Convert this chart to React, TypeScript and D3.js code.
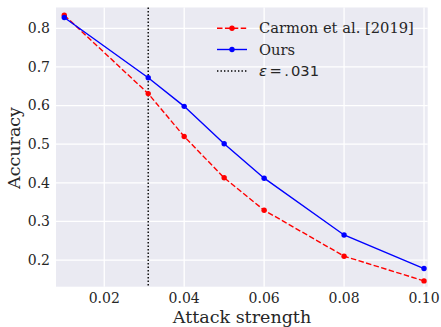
import React from 'react';
import * as d3 from 'd3';

// attack strength values
const strengths = [0.01, 0.031, 0.04, 0.05, 0.06, 0.08, 0.1];
const carmon = [0.834, 0.631, 0.52, 0.413, 0.329, 0.21, 0.146];
const ours = [0.828, 0.672, 0.598, 0.501, 0.412, 0.265, 0.178];
const xTicks = [0.02, 0.04, 0.06, 0.08, 0.1];
const yTicks = [0.2, 0.3, 0.4, 0.5, 0.6, 0.7, 0.8];
const epsilon = 0.031;

const width = 441;
const height = 327;
const margin = { left: 56, right: 13.3, top: 7.5, bottom: 40.3 };
const serif = '"DejaVu Serif", serif';
const textColor = '#262626';

export default function App() {
  const x = d3.scaleLinear()
    .domain([0.00793, 0.10092])
    .range([margin.left, width - margin.right]);
  const y = d3.scaleLinear()
    .domain([0.131, 0.854])
    .range([height - margin.bottom, margin.top]);

  const line = d3.line<number>()
    .x((d, i) => x(strengths[i]))
    .y(d => y(d));

  const series = [
    { name: 'Carmon et al. [2019]', values: carmon, color: '#ff0000', dash: '5.5,2.4' },
    { name: 'Ours', values: ours, color: '#0000ff', dash: null }
  ];

  const plotW = width - margin.left - margin.right;
  const plotH = height - margin.top - margin.bottom;
  const legX = 217;
  const legY = [28.3, 49.5, 71];

  return (
    <svg width={width} height={height} style={{ position: 'absolute', left: 0, top: 0 }}>
      <rect x={0} y={0} width={width} height={height} fill='#ffffff' />
      <rect x={margin.left} y={margin.top} width={plotW} height={plotH} fill='#eaeaf2' />
      {/* grid */}
      {xTicks.map(t => (
        <line key={'gx' + t} x1={x(t)} x2={x(t)} y1={margin.top} y2={margin.top + plotH}
          stroke='#ffffff' strokeWidth={1.3} />
      ))}
      {yTicks.map(t => (
        <line key={'gy' + t} x1={margin.left} x2={margin.left + plotW} y1={y(t)} y2={y(t)}
          stroke='#ffffff' strokeWidth={1.3} />
      ))}
      {/* epsilon line */}
      <line x1={x(epsilon)} x2={x(epsilon)} y1={margin.top} y2={margin.top + plotH}
        stroke='#000000' strokeWidth={1.4} strokeDasharray='1.4,2.1' />
      {series.map(s => (
        <g key={s.name}>
          <path d={line(s.values) || ''} fill='none' stroke={s.color} strokeWidth={1.4}
            strokeDasharray={s.dash || undefined} />
          {s.values.map((v, i) => (
            <circle key={i} cx={x(strengths[i])} cy={y(v)} r={2.7} fill={s.color} />
          ))}
        </g>
      ))}
      {/* tick labels */}
      {xTicks.map(t => (
        <text key={'tx' + t} x={x(t)} y={302.8} textAnchor='middle'
          fontFamily={serif} fontSize={14} fill={textColor}>{d3.format('.2f')(t)}</text>
      ))}
      {yTicks.map(t => (
        <text key={'ty' + t} x={margin.left - 6} y={y(t)} dy='0.35em' textAnchor='end'
          fontFamily={serif} fontSize={14} fill={textColor}>{d3.format('.1f')(t)}</text>
      ))}
      {/* axis labels */}
      <text x={242} y={322.8} textAnchor='middle' fontFamily={serif} fontSize={17.5}
        fill={textColor}>Attack strength</text>
      <text transform={`translate(19.5,148) rotate(-90)`} textAnchor='middle'
        fontFamily={serif} fontSize={17.5} fill={textColor}>Accuracy</text>
      {/* legend */}
      {series.map((s, i) => (
        <g key={'leg' + s.name}>
          <line x1={legX} x2={legX + 30} y1={legY[i]} y2={legY[i]} stroke={s.color}
            strokeWidth={1.4} strokeDasharray={s.dash || undefined} />
          <circle cx={legX + 15} cy={legY[i]} r={2.7} fill={s.color} />
          <text x={legX + 42} y={legY[i]} dy='0.35em' fontFamily={serif} fontSize={14.7}
            fill={textColor}>{s.name}</text>
        </g>
      ))}
      <line x1={legX} x2={legX + 30} y1={legY[2]} y2={legY[2]} stroke='#000000'
        strokeWidth={1.4} strokeDasharray='1.4,2.1' />
      <text x={legX + 42} y={legY[2]} dy='0.35em' fontFamily='"DejaVu Sans", sans-serif' fontSize={14.7}
        fill={textColor}>
        <tspan fontStyle='italic'>ε</tspan>
        <tspan dx={2.5}>=</tspan>
        <tspan dx={2.5}>.</tspan>
        <tspan dx={2}>031</tspan>
      </text>
    </svg>
  );
}
